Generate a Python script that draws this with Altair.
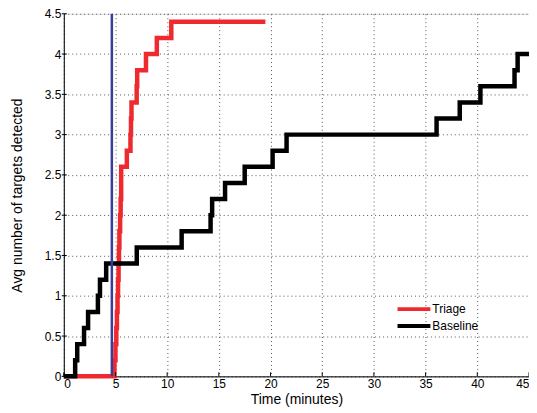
import altair as alt
import pandas as pd

# Baseline step series (time in minutes, avg targets detected)
baseline_t = [0, 1.1, 1.3, 1.96, 2.35, 3.3, 3.5, 4.1, 7.06, 11.4, 14.2, 14.35, 15.6, 17.5, 20.2, 21.55, 36.06, 38.3, 40.3, 43.6, 43.9, 45]
baseline_v = [0, 0.2, 0.4, 0.6, 0.8, 1.0, 1.2, 1.4, 1.6, 1.8, 2.0, 2.2, 2.4, 2.6, 2.8, 3.0, 3.2, 3.4, 3.6, 3.8, 4.0, 4.0]

# Triage step series
triage_t = [0, 4.9, 5.0, 5.08, 5.14, 5.2, 5.25, 5.3, 5.34, 5.38, 5.45, 5.5, 5.55, 6.1, 6.45, 6.5, 6.55, 7.05, 7.1, 7.95, 9.0, 10.4, 19.5]
triage_v = [0, 0.2, 0.4, 0.6, 0.8, 1.0, 1.2, 1.4, 1.6, 1.8, 2.0, 2.2, 2.6, 2.8, 3.0, 3.2, 3.4, 3.6, 3.8, 4.0, 4.2, 4.4, 4.4]

blue_x = [4.65]

x_ticks = [0, 5, 10, 15, 20, 25, 30, 35, 40, 45]
y_ticks = [0, 0.5, 1, 1.5, 2, 2.5, 3, 3.5, 4, 4.5]

series_names = ["Triage", "Baseline"]
series_colors = ["#ee2a2f", "#000000"]

df_b = pd.DataFrame({"t": baseline_t, "v": baseline_v, "s": "Baseline"})
df_t = pd.DataFrame({"t": triage_t, "v": triage_v, "s": "Triage"})
df_blue = pd.DataFrame({"t": blue_x})
df_xt = pd.DataFrame({"t": x_ticks})
df_yt = pd.DataFrame({"v": y_ticks})

W, H = 467, 364
FONT = "Liberation Sans"

xs = alt.Scale(domain=[0, 45], nice=False, zero=False)
ys = alt.Scale(domain=[0, 4.5], nice=False, zero=False)
cs = alt.Scale(domain=series_names, range=series_colors)

common = dict(grid=True, gridDash=[1, 3], gridColor="#444444", gridOpacity=0.9, gridWidth=1,
              tickSize=0, labelFontSize=12, labelColor="black", titleFontSize=14,
              titleFontWeight="normal", titleColor="black", domain=True, domainColor="black",
              domainWidth=1, labelFont=FONT, titleFont=FONT, labelExpr="datum.value + ''")
x_axis = alt.Axis(values=x_ticks, title="Time (minutes)", labelPadding=2, titlePadding=3, **common)
y_axis = alt.Axis(values=y_ticks, title="Avg number of targets detected", labelPadding=3,
                  titlePadding=20, **common)

legend = alt.Legend(title=None, orient="none", legendX=345, legendY=290, symbolType="M-4,0H4",
                    symbolStrokeWidth=4, symbolSize=68, labelFontSize=12, labelFont=FONT,
                    labelColor="black", rowPadding=0, labelOffset=12, padding=0)

tri = alt.Chart(df_t).mark_line(interpolate="step-after", strokeWidth=4.5).encode(
    x=alt.X("t:Q", scale=xs, axis=x_axis),
    y=alt.Y("v:Q", scale=ys, axis=y_axis),
    color=alt.Color("s:N", scale=cs, legend=legend),
)
base = alt.Chart(df_b).mark_line(interpolate="step-after", strokeWidth=4.5).encode(
    x=alt.X("t:Q", scale=xs),
    y=alt.Y("v:Q", scale=ys),
    color=alt.Color("s:N", scale=cs, legend=legend),
)
blue = alt.Chart(df_blue).mark_rule(color="#3a3d98", strokeWidth=2.5).encode(
    x=alt.X("t:Q", scale=xs),
)
xtick_b = alt.Chart(df_xt).mark_rule(color="black", strokeWidth=1).encode(
    x=alt.X("t:Q", scale=xs), y=alt.value(H), y2=alt.value(H - 4))
ytick_l = alt.Chart(df_yt).mark_rule(color="black", strokeWidth=1).encode(
    y=alt.Y("v:Q", scale=ys), x=alt.value(-2), x2=alt.value(3))

chart = alt.layer(tri, base, blue, xtick_b, ytick_l).properties(
    width=W, height=H,
    autosize=alt.AutoSizeParams(type="none"),
    padding={"left": 56, "top": 5, "right": 0, "bottom": 36},
).configure_view(stroke=None).configure(background="white")

chart.save("out.html", embed_options={"renderer": "svg", "actions": False})
